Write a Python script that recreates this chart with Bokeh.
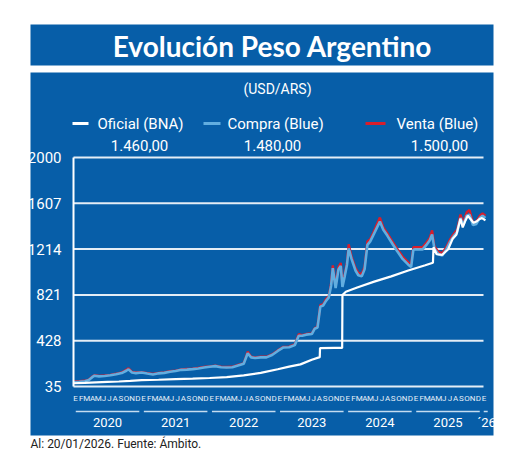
from bokeh.plotting import figure
from bokeh.models import Range1d, LinearAxis, FixedTicker
from bokeh.core.properties import value
from bokeh.embed import file_html
from bokeh.resources import INLINE

# ---------------- data ----------------
# months since Jan 2020 (0 = Jan 2020)
months_blue = [0.0, 1.0, 2.0, 2.7, 3.3, 3.7, 4.5, 5.5, 6.5, 7.5, 8.5, 9.3, 9.7, 10.3, 11.0,
               12.0, 13.0, 14.0, 15.0, 16.0, 17.0, 18.0, 19.0, 20.0, 21.0, 22.0, 23.0,
               24.0, 25.0, 26.0, 27.0, 28.0, 29.0, 30.0, 30.7, 31.3, 32.0, 33.0, 34.0, 35.0,
               36.0, 37.0, 38.0, 39.0, 39.7, 40.3, 41.0, 42.0, 42.5, 43.0, 43.5, 44.0, 44.5,
               45.0, 45.4, 45.7, 46.2, 46.7, 47.1, 47.4, 47.8, 48.2, 48.5, 49.0, 49.7, 50.2,
               50.8, 51.3, 51.8, 52.3, 52.8, 53.5, 54.0, 54.6, 55.3, 56.2, 57.0, 58.0, 59.0,
               59.5, 59.9, 60.5, 61.5, 62.2, 62.8, 63.2, 63.6, 64.3, 65.0, 65.7, 66.4, 67.1,
               67.6, 68.2, 68.7, 69.3, 69.8, 70.4, 71.0, 71.6, 72.1, 72.6]
compra_blue = [73, 76, 80, 90, 115, 128, 122, 125, 131, 140, 150, 170, 182, 155, 150,
               155, 146, 138, 148, 152, 162, 168, 178, 180, 184, 190, 198,
               204, 210, 200, 198, 200, 215, 230, 320, 285, 280, 285, 285, 305,
               340, 370, 372, 390, 470, 470, 480, 485, 530, 540, 720, 730, 770,
               800, 900, 1050, 880, 1040, 1070, 890, 980, 1080, 1220, 1130, 1030, 990,
               980, 1040, 1250, 1280, 1330, 1400, 1450, 1380, 1330, 1260, 1200, 1130, 1080,
               1060, 1210, 1210, 1210, 1250, 1290, 1340, 1220, 1170, 1160, 1210, 1280, 1330,
               1360, 1480, 1420, 1500, 1510, 1420, 1430, 1480, 1500, 1480]
venta_blue = [78, 80, 84, 94, 120, 131, 126, 129, 135, 144, 155, 178, 192, 160, 155,
              158, 150, 142, 151, 155, 166, 171, 181, 185, 187, 195, 203,
              208, 214, 205, 202, 204, 220, 234, 335, 290, 285, 290, 290, 310,
              345, 375, 377, 396, 485, 475, 485, 490, 535, 550, 735, 740, 785,
              810, 920, 1075, 900, 1060, 1095, 910, 1000, 1100, 1255, 1150, 1050, 1010,
              1000, 1060, 1280, 1300, 1350, 1430, 1485, 1400, 1350, 1280, 1220, 1150, 1100,
              1080, 1230, 1230, 1230, 1270, 1310, 1375, 1240, 1190, 1180, 1230, 1300, 1350,
              1380, 1510, 1440, 1530, 1550, 1440, 1450, 1500, 1520, 1500]

months_oficial = [0, 2, 4, 6, 8, 10, 12, 15, 18, 21, 24, 27, 30, 33, 36, 38, 40, 42,
                  43.4, 43.45, 46.0, 47.35, 47.4, 48.0, 50.0, 53.0, 56.0, 59.0, 62.0,
                  63.35, 63.45, 64.0, 65.0, 66.0, 66.8, 67.5, 68.2, 68.6, 69.0, 69.5,
                  70.0, 70.5, 71.0, 71.5, 72.0, 72.6]
oficial = [63, 66, 70, 74, 78, 83, 89, 93, 98, 102, 108, 116, 130, 152, 183, 205, 225, 265,
           287, 365, 366, 366, 820, 848, 885, 935, 980, 1030, 1075,
           1097, 1230, 1170, 1165, 1210, 1300, 1340, 1475, 1400, 1450, 1500,
           1470, 1440, 1450, 1470, 1480, 1460]

y_ticks = [35, 428, 821, 1214, 1607, 2000]
month_letters = ["E", "F", "M", "A", "M", "J", "J", "A", "S", "O", "N", "D"]
year_labels = ["2020", "2021", "2022", "2023", "2024", "2025", "´26"]
legend_labels = ["Oficial (BNA)", "Compra (Blue)", "Venta (Blue)"]
last_values = ["1.460,00", "1.480,00", "1.500,00"]
title_text = "Evolución Peso Argentino"
subtitle_text = "(USD/ARS)"
footer_text = "Al: 20/01/2026. Fuente: Ámbito."

# ---------------- style / layout ----------------
BLUE = "#075ea8"
LBLUE = "#62aee0"
RED = "#d81e2c"
GRID = "#e4edf6"
W, H = 504, 457
OFF = 0                      # where the canvas starts on the page
PX0, PPM = 73.0, 5.674       # page x of month 0, px per month
PY35, PPU = 386.0, 229.0 / 1965.0


def dx(px):
    return (px - PX0) / PPM


def dy(py):
    return 35 + (PY35 - py) / PPU


p = figure(width=W, height=H, output_backend="svg", toolbar_location=None,
           x_range=Range1d(dx(OFF), dx(OFF + W)), y_range=Range1d(dy(OFF + H), dy(OFF)),
           x_axis_location=None, y_axis_location=None, min_border=0,
           background_fill_color="white", border_fill_color="white",
           outline_line_color=None)
p.grid.visible = False

# blue panels
p.quad(left=[dx(30), dx(30)], right=[dx(493), dx(493)],
       top=[dy(24), dy(72)], bottom=[dy(65), dy(435)],
       fill_color=BLUE, line_color=None)

p.text(x=[dx(272)], y=[dy(45)], text=[title_text], text_font=value("Lato"),
       text_font_style="bold", text_font_size="28px", text_color="white",
       text_align="center", text_baseline="middle")
p.text(x=[dx(277)], y=[dy(88)], text=[subtitle_text], text_font=value("Roboto"),
       text_font_size="14px", text_color="white", text_align="center",
       text_baseline="middle")

# legend
leg_y = dy(123)
p.segment(x0=[dx(72)], x1=[dx(88)], y0=[leg_y], y1=[leg_y], line_color="white", line_width=3)
p.segment(x0=[dx(203)], x1=[dx(220)], y0=[leg_y], y1=[leg_y], line_color=LBLUE, line_width=3)
p.segment(x0=[dx(365)], x1=[dx(385)], y0=[leg_y], y1=[leg_y], line_color=RED, line_width=3)
p.text(x=[dx(97), dx(227), dx(396)], y=[leg_y] * 3, text=legend_labels,
       text_font=value("Roboto"), text_font_size="15px", text_color="white",
       text_align="left", text_baseline="middle")
p.text(x=[dx(139), dx(272), dx(439)], y=[dy(145)] * 3, text=last_values,
       text_font=value("Roboto"), text_font_size="15px", text_color="white",
       text_align="center", text_baseline="middle")

# grid lines
p.segment(x0=[0] * len(y_ticks), x1=[dx(483)] * len(y_ticks), y0=y_ticks, y1=y_ticks,
          line_color=GRID, line_width=2)

# y axis
yax = LinearAxis(ticker=FixedTicker(ticks=y_ticks), bounds=(35, 2000), fixed_location=0,
                 axis_line_color="white", axis_line_width=2,
                 major_tick_line_color=None, minor_tick_line_color=None,
                 major_label_text_color="white", major_label_text_font="Roboto",
                 major_label_text_font_size="15px", major_label_standoff=6)
p.add_layout(yax, "left")

# series
p.line(months_blue, venta_blue, line_color=RED, line_width=2.4)
p.line(months_blue, compra_blue, line_color=LBLUE, line_width=2.6)
p.line(months_oficial, oficial, line_color="white", line_width=2.2)

# month letters
n_months = 73
p.text(x=[i + 0.35 for i in range(n_months)], y=[dy(398)] * n_months,
       text=[month_letters[i % 12] for i in range(n_months)],
       text_font=value("Roboto"), text_font_size="8px",
       text_color="#e8f0f8", text_align="center", text_baseline="middle")

# year bars and labels
yr_x0 = [12 * k + 0.4 for k in range(6)] + [72.3]
yr_x1 = [12 * k + 11.6 for k in range(6)] + [73.0]
p.segment(x0=yr_x0, x1=yr_x1, y0=[dy(411)] * 7, y1=[dy(411)] * 7,
          line_color="#c4dcf0", line_width=1.5)
p.text(x=[12 * k + 6 for k in range(6)] + [72.8], y=[dy(422)] * 7, text=year_labels,
       text_font=value("Roboto"), text_font_size="13px", text_color="white",
       text_align="center", text_baseline="middle")

# footer
p.text(x=[dx(30)], y=[dy(443)], text=[footer_text], text_font=value("Roboto"),
       text_font_size="12px", text_color="#222222", text_align="left",
       text_baseline="middle")

open("out.html", "w").write(file_html(p, INLINE))
